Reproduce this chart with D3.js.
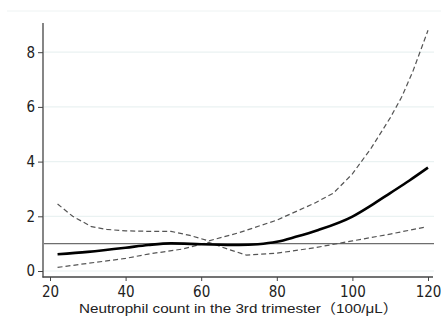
<html>
<script src="https://d3js.org/d3.v7.min.js"></script>
<style>
    body { margin: 0; background: #fff; }
    .tick text { font-family: "Liberation Sans Narrow", "DejaVu Sans Condensed", "Liberation Sans", sans-serif; font-size: 15px; fill: #222; }
</style>
<body>
<svg id="chart" width=441 height=323></svg>
<script>
// neutrophil count (100/uL) and estimated ratio
var estX   = [22, 30, 40, 46, 52, 60, 70, 75, 80, 85, 91, 100, 105, 110, 115, 120];
var estY   = [0.61, 0.70, 0.85, 0.95, 1.01, 0.98, 0.95, 0.98, 1.07, 1.25, 1.5, 1.99, 2.4, 2.85, 3.3, 3.78];
var upperX = [22, 26, 31, 35, 40, 46, 52, 57, 62, 70, 80, 90, 95, 100, 105, 110, 113, 116, 120];
var upperY = [2.45, 2.0, 1.62, 1.52, 1.47, 1.45, 1.45, 1.3, 1.1, 1.4, 1.86, 2.48, 2.85, 3.55, 4.5, 5.6, 6.35, 7.3, 8.8];
var lowerX = [22, 30, 40, 46, 55, 62, 67, 72, 80, 90, 100, 110, 119];
var lowerY = [0.13, 0.28, 0.46, 0.62, 0.8, 1.05, 0.8, 0.58, 0.65, 0.85, 1.1, 1.35, 1.6];
var xTicks = [20, 40, 60, 80, 100, 120];
var yTicks = [0, 2, 4, 6, 8];
var refValue = 1;
var xLabel = "Neutrophil count in the 3rd trimester（100/μL）";

var svg = d3.select("#chart");

var x = d3.scaleLinear().domain([20, 120]).range([50, 428]);
var y = d3.scaleLinear().domain([0, 8]).range([271, 52.2]);

// faint frame line at the top
svg.append("line")
    .attr("x1", 7).attr("x2", 441).attr("y1", 11).attr("y2", 11)
    .attr("stroke", "#eef3f3").attr("stroke-width", 1);

// grid
svg.append("g")
    .selectAll("line")
    .data(yTicks)
    .enter().append("line")
    .attr("x1", 44).attr("x2", 434)
    .attr("y1", d => y(d)).attr("y2", d => y(d))
    .attr("stroke", "#eaf2f2").attr("stroke-width", 1.2);

// reference line
svg.append("line")
    .attr("x1", 44).attr("x2", 434)
    .attr("y1", y(refValue)).attr("y2", y(refValue))
    .attr("stroke", "#6e6e6e").attr("stroke-width", 1.2);

function series(xs, ys) { return xs.map((d, i) => [d, ys[i]]); }

var lineLin = d3.line().x(d => x(d[0])).y(d => y(d[1]));
var lineSmooth = d3.line().x(d => x(d[0])).y(d => y(d[1])).curve(d3.curveMonotoneX);

svg.append("path")
    .datum(series(upperX, upperY))
    .attr("fill", "none").attr("stroke", "#555")
    .attr("stroke-width", 1.2).attr("stroke-dasharray", "5,3")
    .attr("d", lineLin);

svg.append("path")
    .datum(series(lowerX, lowerY))
    .attr("fill", "none").attr("stroke", "#555")
    .attr("stroke-width", 1.2).attr("stroke-dasharray", "5,3")
    .attr("d", lineLin);

svg.append("path")
    .datum(series(estX, estY))
    .attr("fill", "none").attr("stroke", "#000")
    .attr("stroke-width", 2.6)
    .attr("d", lineSmooth);

// axes
var yAxis = svg.append("g")
    .attr("transform", "translate(43,0)")
    .call(d3.axisLeft(y).tickValues(yTicks).tickSize(5).tickPadding(3).tickFormat(d3.format("d")));
yAxis.select(".domain").remove();
yAxis.selectAll(".tick line").attr("stroke", "#444");
svg.append("line")
    .attr("x1", 43).attr("x2", 43).attr("y1", 23).attr("y2", 277.5)
    .attr("stroke", "#444").attr("stroke-width", 1.3);

var xAxis = svg.append("g")
    .attr("transform", "translate(0,277)")
    .call(d3.axisBottom(x).tickValues(xTicks).tickSize(4).tickPadding(5.5));
xAxis.select(".domain").remove();
xAxis.selectAll(".tick line").attr("stroke", "#444");
svg.append("line")
    .attr("x1", 42.5).attr("x2", 433).attr("y1", 277).attr("y2", 277)
    .attr("stroke", "#444").attr("stroke-width", 1.3);

svg.append("text")
    .attr("x", 79).attr("y", 313)
    .attr("textLength", 319).attr("lengthAdjust", "spacingAndGlyphs")
    .style("font-family", "'Liberation Sans', 'Noto Sans CJK JP', sans-serif")
    .style("font-size", "13.5px")
    .style("fill", "#222")
    .text(xLabel);
</script>
</body>
</html>
